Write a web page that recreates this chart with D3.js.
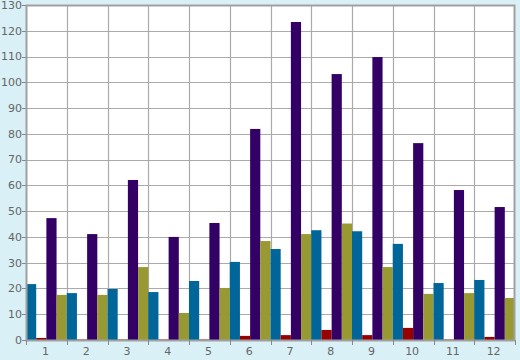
<!DOCTYPE html>
<html>
<head>
<meta charset="utf-8">
<script src="https://cdn.jsdelivr.net/npm/d3@7"></script>
<style>
  html, body { margin: 0; padding: 0; background: #d9f0f7; }
  svg { display: block; }
</style>
</head>
<body>
<div id="chart"></div>
<script>
const categories = ['1', '2', '3', '4', '5', '6', '7', '8', '9', '10', '11', '12'];
const seriesNames = ['blue', 'red', 'purple', 'olive'];
const seriesColors = ['#006699', '#990000', '#330066', '#999933'];

const blueValues   = [21.7, 18.2, 19.8, 18.6, 22.9, 30.3, 35.3, 42.6, 42.2, 37.3, 22.1, 23.3];
const redValues    = [0.8, 0.2, 0.2, 0.2, 0.2, 1.6, 1.9, 3.9, 1.9, 4.7, 0.2, 1.2];
const purpleValues = [47.3, 41.1, 62.1, 40.0, 45.4, 81.9, 123.4, 103.2, 109.8, 76.4, 58.2, 51.6];
const oliveValues  = [17.5, 17.5, 28.3, 10.5, 20.2, 38.4, 41.1, 45.2, 28.3, 17.9, 18.2, 16.3];
const yTicks = [0, 10, 20, 30, 40, 50, 60, 70, 80, 90, 100, 110, 120, 130];

const allSeries = [blueValues, redValues, purpleValues, oliveValues];

const width = 520, height = 360;
const margin = { top: 5, right: 5, bottom: 20, left: 26 };
const innerWidth = width - margin.left - margin.right;
const innerHeight = height - margin.top - margin.bottom;

const svg = d3.select('#chart')
    .append('svg')
    .attr('width', width)
    .attr('height', height)
    .style('font-family', 'DejaVu Sans, sans-serif');

const g = svg.append('g')
    .attr('transform', `translate(${margin.left},${margin.top})`);

const x = d3.scaleBand()
    .domain(categories)
    .range([0, innerWidth])
    .padding(0);

const xInner = d3.scaleBand()
    .domain(seriesNames)
    .range([0, x.bandwidth()])
    .padding(0);

const y = d3.scaleLinear()
    .domain([0, 130])
    .range([innerHeight, 0]);

// plot background
g.append('rect')
    .attr('width', innerWidth)
    .attr('height', innerHeight)
    .attr('fill', '#fff');

// horizontal grid
g.selectAll('.hgrid')
    .data(yTicks)
    .enter().append('line')
    .attr('x1', 0)
    .attr('x2', innerWidth)
    .attr('y1', d => Math.round(y(d)) + 0.5)
    .attr('y2', d => Math.round(y(d)) + 0.5)
    .attr('stroke', '#aaaaaa')
    .attr('stroke-width', 1.2);

// vertical grid at band boundaries
g.selectAll('.vgrid')
    .data(categories.slice(1))
    .enter().append('line')
    .attr('x1', d => Math.round(x(d)) + 0.5)
    .attr('x2', d => Math.round(x(d)) + 0.5)
    .attr('y1', 0)
    .attr('y2', innerHeight)
    .attr('stroke', '#aaaaaa')
    .attr('stroke-width', 1.2);

// bars
categories.forEach((cat, i) => {
    seriesNames.forEach((s, j) => {
        const v = allSeries[j][i];
        g.append('rect')
            .attr('x', x(cat) + xInner(s))
            .attr('y', y(v))
            .attr('width', xInner.bandwidth())
            .attr('height', y(0) - y(v))
            .attr('fill', seriesColors[j]);
    });
});

// frame
g.append('rect')
    .attr('x', 0.5)
    .attr('y', 0.5)
    .attr('width', innerWidth - 1)
    .attr('height', innerHeight)
    .attr('fill', 'none')
    .attr('stroke', '#a0a0a0')
    .attr('stroke-width', 2);

// y axis ticks and labels
g.selectAll('.ytick')
    .data(yTicks)
    .enter().append('line')
    .attr('x1', -4)
    .attr('x2', 0)
    .attr('y1', d => Math.round(y(d)) + 0.5)
    .attr('y2', d => Math.round(y(d)) + 0.5)
    .attr('stroke', '#888');

g.selectAll('.ylabel')
    .data(yTicks)
    .enter().append('text')
    .attr('x', -4)
    .attr('y', d => y(d))
    .attr('dy', '0.35em')
    .attr('text-anchor', 'end')
    .attr('fill', '#666')
    .attr('font-size', '11px')
    .text(d => d);

// x axis tick marks at band boundaries
const xBoundaries = categories.map(c => x(c)).concat([innerWidth]);
g.selectAll('.xtick')
    .data(xBoundaries)
    .enter().append('line')
    .attr('x1', d => Math.round(d) + 0.5)
    .attr('x2', d => Math.round(d) + 0.5)
    .attr('y1', innerHeight)
    .attr('y2', innerHeight + 5)
    .attr('stroke', '#888');

g.selectAll('.xlabel')
    .data(categories)
    .enter().append('text')
    .attr('x', d => x(d) + x.bandwidth() / 2 - 1)
    .attr('y', innerHeight + 15)
    .attr('text-anchor', 'middle')
    .attr('fill', '#666')
    .attr('font-size', '11px')
    .text(d => d);
</script>
</body>
</html>
